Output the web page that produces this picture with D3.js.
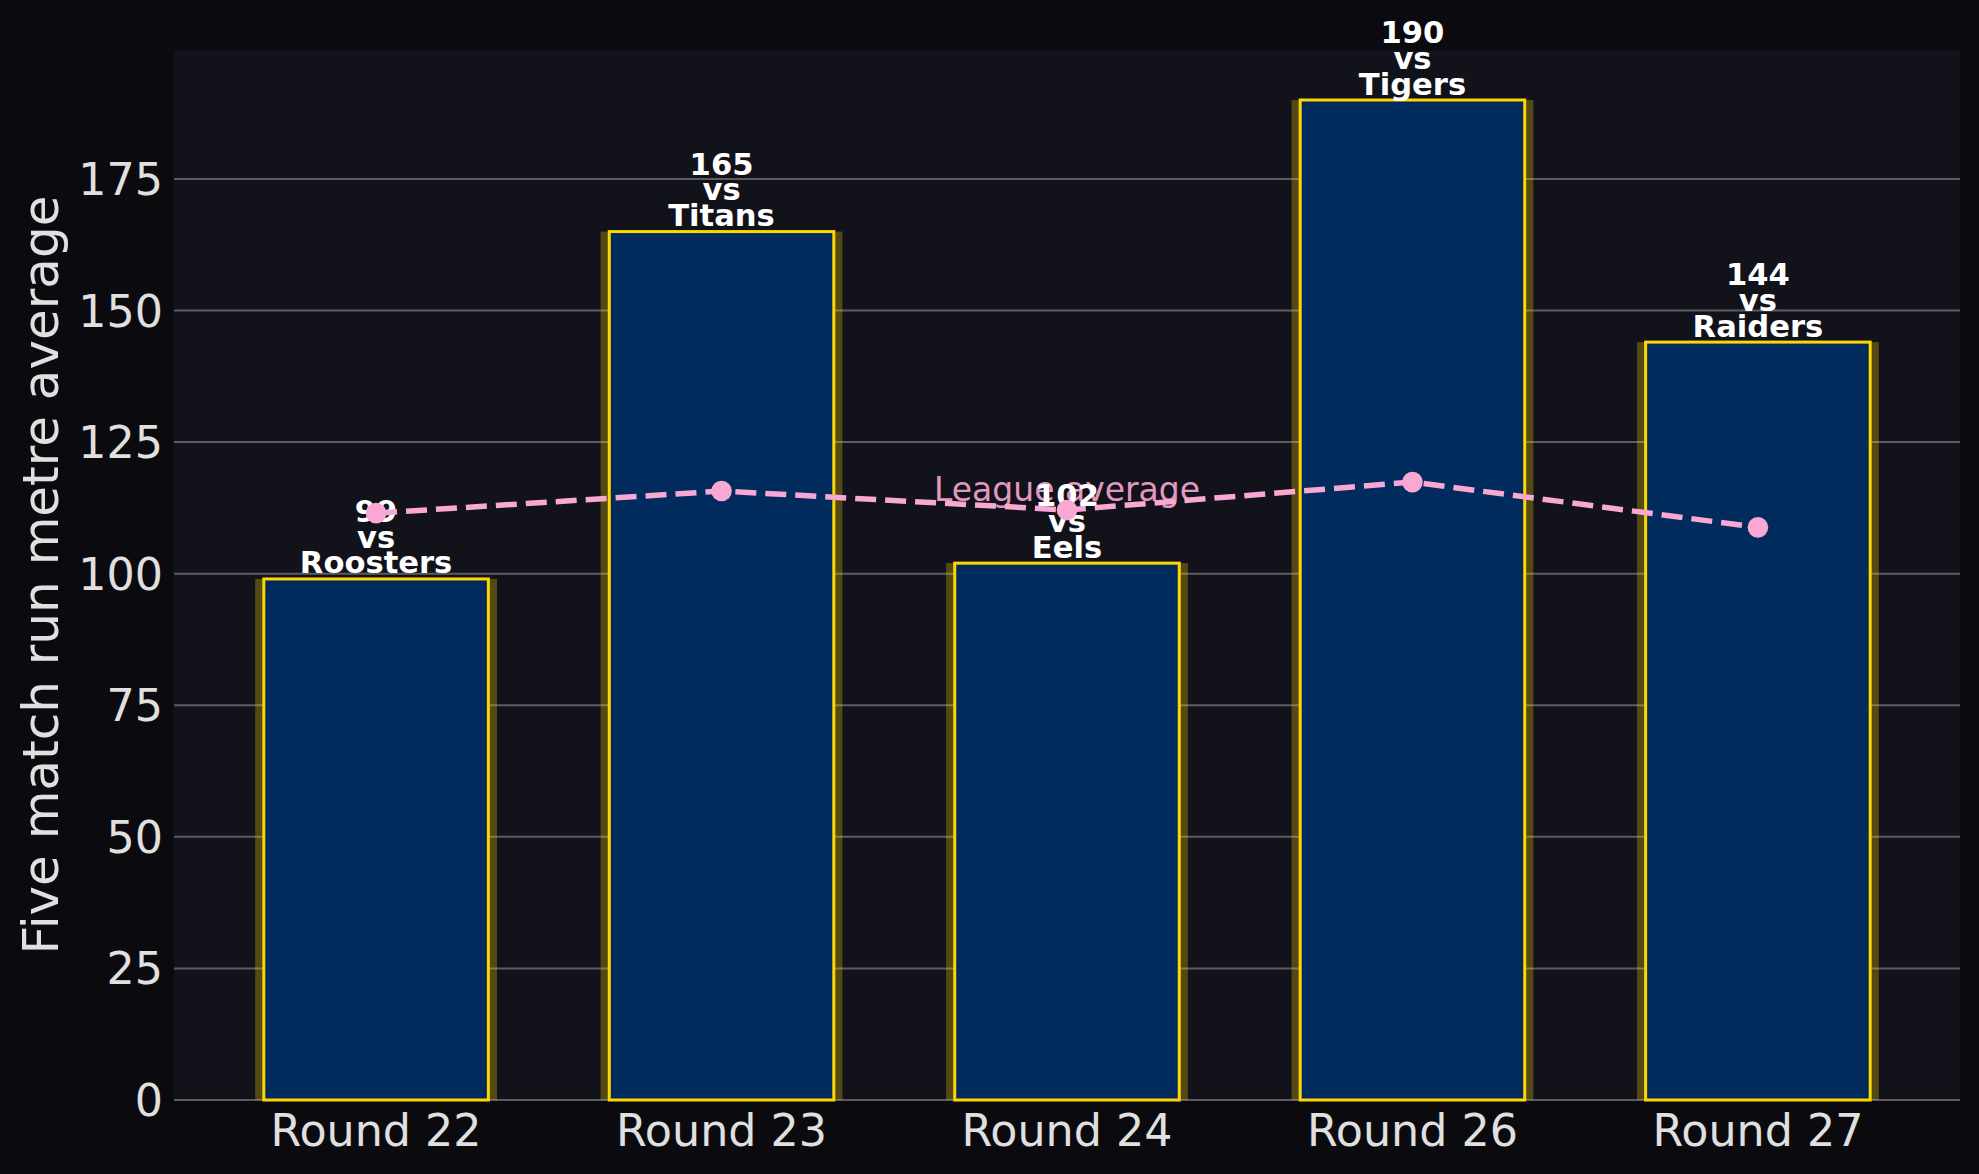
<!DOCTYPE html>
<html>
<head>
<meta charset="utf-8">
<script src="https://cdn.jsdelivr.net/npm/d3@7"></script>
<style>
  body { margin:0; background:#0b0b0f; }
  svg { display:block; }
</style>
</head>
<body>
<script>

var rounds = ["Round 22","Round 23","Round 24","Round 26","Round 27"];
var opponents = ["Roosters","Titans","Eels","Tigers","Raiders"];
var runMetres = [99,165,102,190,144];
var leagueAverage = [111.5,115.7,112.1,117.4,108.8];
var yTicks = [0,25,50,75,100,125,150,175];

var width = 1979;
var height = 1174;

var margins = {
  top:50,
  left:174,
  bottom:74,
  right:19
};

var plotWidth = width-margins.left-margins.right;
var plotHeight = height-margins.top-margins.bottom;

// bar positions in data units, matplotlib style xlim
var xScale = d3.scaleLinear()
              .domain([-0.585,4.585])
              .range([0,plotWidth]);
var yScale = d3.scaleLinear()
              .domain([0,d3.max(runMetres)*1.05])
              .range([plotHeight,0]);

var svg = d3.select("body")
    .append("svg")
    .attr("width",width)
    .attr("height",height)
    .style("background","#0b0b0f");

var plot = svg.append("g")
          .classed("plot",true)
          .attr("transform","translate("+margins.left+","+margins.top+")");

plot.append("rect")
    .attr("x",0)
    .attr("y",0)
    .attr("width",plotWidth)
    .attr("height",plotHeight)
    .attr("fill","#12121a");

// grid
plot.selectAll("line.grid")
    .data(yTicks)
    .enter()
    .append("line")
    .classed("grid",true)
    .attr("x1",0)
    .attr("x2",plotWidth)
    .attr("y1",function(d){return yScale(d);})
    .attr("y2",function(d){return yScale(d);})
    .attr("stroke","#5c5c60")
    .attr("stroke-width",2);

// y tick labels
svg.append("g")
    .selectAll("text")
    .data(yTicks)
    .enter()
    .append("text")
    .attr("x",margins.left-11)
    .attr("y",function(d){return margins.top+yScale(d);})
    .attr("dy","0.36em")
    .attr("text-anchor","end")
    .attr("font-family","DejaVu Sans")
    .attr("font-size",44.4)
    .attr("fill","#e0e0e0")
    .text(function(d){return d;});

// x tick labels
svg.append("g")
    .selectAll("text")
    .data(rounds)
    .enter()
    .append("text")
    .attr("x",function(d,i){return margins.left+xScale(i);})
    .attr("y",margins.top+plotHeight+46)
    .attr("text-anchor","middle")
    .attr("font-family","DejaVu Sans")
    .attr("font-size",44.4)
    .attr("fill","#e0e0e0")
    .text(function(d){return d;});

svg.append("text")
    .attr("transform","translate(58,"+(margins.top+plotHeight/2)+") rotate(-90)")
    .attr("text-anchor","middle")
    .attr("font-family","DejaVu Sans")
    .attr("font-size",50)
    .attr("fill","#e0e0e0")
    .text("Five match run metre average");

var unit = xScale(1)-xScale(0);

// glow behind bars
plot.selectAll("rect.glow")
    .data(runMetres)
    .enter()
    .append("rect")
    .classed("glow",true)
    .attr("x",function(d,i){return xScale(i)-unit*0.35;})
    .attr("y",function(d){return yScale(d);})
    .attr("width",unit*0.7)
    .attr("height",function(d){return plotHeight-yScale(d);})
    .attr("fill","#ffd700")
    .attr("opacity",0.28);

plot.selectAll("rect.bar")
    .data(runMetres)
    .enter()
    .append("rect")
    .classed("bar",true)
    .attr("x",function(d,i){return xScale(i)-unit*0.325;})
    .attr("y",function(d){return yScale(d);})
    .attr("width",unit*0.65)
    .attr("height",function(d){return plotHeight-yScale(d);})
    .attr("fill","#002b5c")
    .attr("stroke","#ffd700")
    .attr("stroke-width",3);

// league average label
plot.append("text")
    .attr("x",xScale(2))
    .attr("y",yScale(d3.mean(leagueAverage))-3.5)
    .attr("text-anchor","middle")
    .attr("font-family","DejaVu Sans")
    .attr("font-size",33)
    .attr("fill","#f9a8d4")
    .attr("opacity",0.9)
    .text("League average");

// bar value labels
var labels = plot.selectAll("text.barLabel")
    .data(runMetres)
    .enter()
    .append("text")
    .classed("barLabel",true)
    .attr("text-anchor","middle")
    .attr("font-family","DejaVu Sans")
    .attr("font-weight","bold")
    .attr("font-size",30.6)
    .attr("fill","#ffffff");

labels.each(function(d,i){
  var lines = [String(d),"vs",opponents[i]];
  var base = yScale(d)-5.5;
  d3.select(this).selectAll("tspan")
    .data(lines)
    .enter()
    .append("tspan")
    .attr("x",xScale(i))
    .attr("y",function(t,j){return base-(2-j)*25.6;})
    .text(function(t){return t;});
});

var line = d3.line()
    .x(function(d,i){return xScale(i);})
    .y(function(d){return yScale(d);});

plot.append("path")
    .datum(leagueAverage)
    .attr("d",line)
    .attr("fill","none")
    .attr("stroke","#f9a8d4")
    .attr("stroke-width",5.5)
    .attr("stroke-dasharray","21,9");

plot.selectAll("circle")
    .data(leagueAverage)
    .enter()
    .append("circle")
    .attr("cx",function(d,i){return xScale(i);})
    .attr("cy",function(d){return yScale(d);})
    .attr("r",10.3)
    .attr("fill","#f9a8d4");

</script>
</body>
</html>
